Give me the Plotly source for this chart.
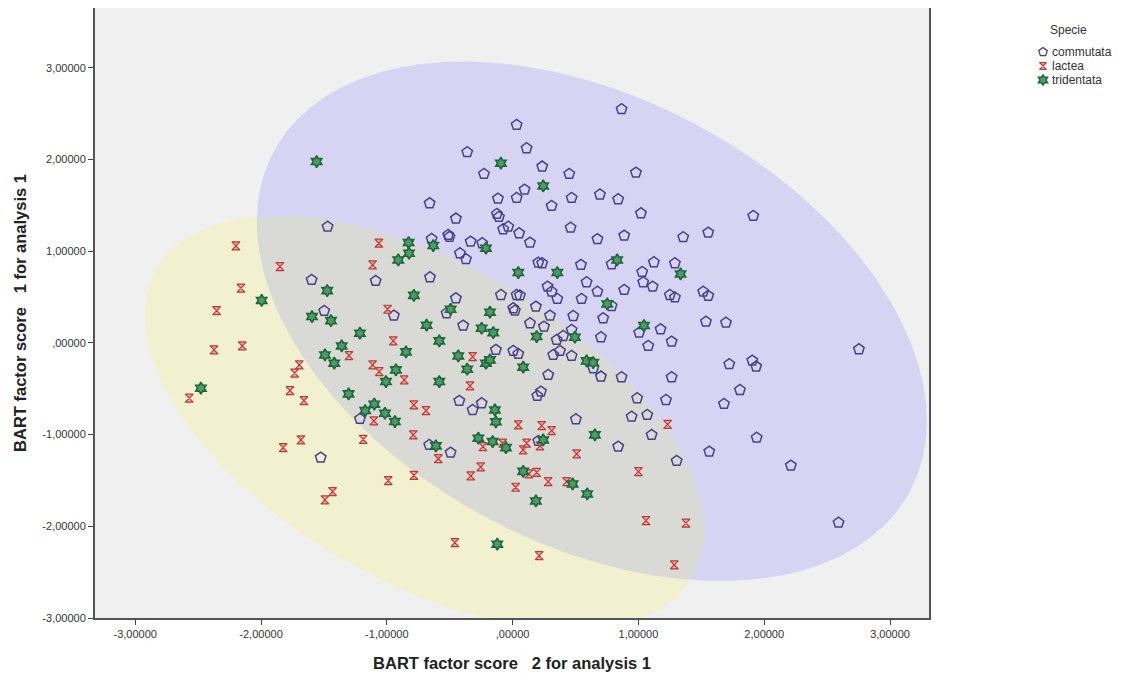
import numpy as np
import plotly.graph_objects as go

# ---------------- data ----------------
species = ["commutata", "lactea", "tridentata"]

commutata_x = [0.032, -0.361, 0.111, -0.228, 0.235, 0.450, -0.660, -0.117, 0.032, 0.095,
               0.469, 0.310, 0.694, -0.451, -0.125, -0.109, -0.075, -0.035, 0.052, 0.138,
               0.461, 0.674, -1.471, -0.644, -0.512, -0.502, -0.334, -0.242, -0.419, -0.371,
               -0.657, -1.598, -1.089, 0.204, 0.235, 0.543, 0.588, 0.278, 0.310, -0.093,
               0.032, 0.058, -0.451, 0.674, 0.866, 0.980, 0.839, 1.020, 1.913, 0.887,
               1.356, 1.555, 0.787, 1.123, 1.290, 1.030, 1.038, 1.113, 0.887, 1.250,
               1.290, 1.515, 1.555, -1.498, -0.944, -1.214, -1.526, -0.525, -0.393, 0.005,
               0.018, 0.185, 0.355, 0.548, 0.787, 0.482, 0.720, 0.297, 0.138, 0.249,
               0.469, 0.402, 0.350, 0.702, 1.006, 1.078, 1.176, 1.264, 1.537, -0.133,
               0.005, 0.045, 0.376, 0.323, 0.469, 0.641, 0.702, 0.866, 0.283, 1.264,
               0.225, 0.196, -0.424, -0.318, -0.246, 0.990, 1.219, 0.946, 1.070, 0.503,
               1.105, 0.839, 1.304, 1.563, -0.663, -0.493, 0.204, 1.696, 2.753, 1.722,
               1.905, 1.936, 1.807, 1.680, 1.940, 2.212, 2.591]
commutata_y = [2.377, 2.080, 2.123, 1.843, 1.923, 1.843, 1.523, 1.574, 1.581, 1.672,
               1.581, 1.494, 1.619, 1.356, 1.407, 1.374, 1.240, 1.268, 1.196, 1.094,
               1.257, 1.132, 1.268, 1.134, 1.178, 1.156, 1.105, 1.087, 0.978, 0.913,
               0.716, 0.687, 0.676, 0.876, 0.869, 0.851, 0.662, 0.614, 0.559, 0.523,
               0.523, 0.518, 0.487, 0.559, 2.549, 1.857, 1.567, 1.414, 1.385, 1.170,
               1.153, 1.203, 0.858, 0.880, 0.869, 0.774, 0.662, 0.614, 0.578, 0.523,
               0.496, 0.559, 0.513, 0.349, 0.298, -0.829, -1.251, 0.324, 0.189, 0.378,
               0.352, 0.396, 0.480, 0.480, 0.403, 0.294, 0.269, 0.298, 0.215, 0.178,
               0.142, 0.076, 0.033, 0.062, 0.112, -0.033, 0.149, 0.014, 0.232, -0.076,
               -0.087, -0.120, -0.087, -0.131, -0.142, -0.276, -0.367, -0.374, -0.349, -0.374,
               -0.531, -0.578, -0.632, -0.731, -0.658, -0.603, -0.622, -0.804, -0.785, -0.832,
               -1.003, -1.131, -1.287, -1.185, -1.112, -1.196, -1.069, 0.221, -0.069, -0.232,
               -0.193, -0.258, -0.513, -0.665, -1.033, -1.338, -1.960]

lactea_x = [-1.063, -1.850, -1.113, -2.200, -2.160, -2.353, -2.374, -2.149, -2.571, -1.696,
            -1.733, -1.770, -1.659, -0.994, -0.949, -1.301, -1.113, -1.060, -0.862, -0.785,
            -0.689, -1.103, -0.790, -1.188, -1.683, -1.824, -1.431, -1.492, -0.989, -0.785,
            -0.318, -0.339, -0.591, 0.045, 0.231, 0.310, -0.236, -0.079, 0.084, 0.111,
            0.217, 0.509, 1.232, -0.254, -0.333, 0.191, 0.130, 0.283, 0.429, 0.024,
            1.000, -0.459, 0.211, 1.060, 1.378, 1.285]
lactea_y = [1.087, 0.832, 0.851, 1.058, 0.597, 0.352, -0.076, -0.033, -0.603, -0.240,
            -0.330, -0.520, -0.629, 0.367, 0.022, -0.138, -0.240, -0.313, -0.403, -0.676,
            -0.738, -0.851, -1.003, -1.052, -1.058, -1.142, -1.622, -1.712, -1.502, -1.445,
            -0.149, -0.469, -1.263, -0.894, -0.902, -0.956, -1.131, -1.094, -1.167, -1.094,
            -1.123, -1.210, -0.889, -1.352, -1.450, -1.412, -1.429, -1.513, -1.513, -1.574,
            -1.403, -2.178, -2.320, -1.938, -1.966, -2.421]

tridentata_x = [-1.558, -0.093, 0.243, -0.827, -0.824, -0.631, -0.909, -0.212, 0.045, 0.355,
                -1.474, -0.785, -1.995, 0.831, 1.335, -2.478, -1.595, -1.444, -1.214, -0.684,
                -1.359, -1.492, -1.418, -0.848, -0.928, -1.007, -1.304, -1.100, -1.172, -1.015,
                -0.936, -0.493, -0.180, -0.246, -0.154, -0.583, -0.432, -0.361, -0.212, -0.180,
                0.191, 0.495, 0.084, -0.583, 0.588, 0.641, 0.752, 1.044, -0.141, -0.133,
                0.654, -0.610, -0.273, -0.159, -0.053, 0.243, 0.084, 0.477, 0.593, 0.185,
                -0.122]
tridentata_y = [1.977, 1.960, 1.712, 1.094, 0.978, 1.061, 0.905, 1.033, 0.767, 0.767,
                0.570, 0.518, 0.463, 0.905, 0.752, -0.494, 0.287, 0.243, 0.106, 0.193,
                -0.033, -0.131, -0.221, -0.098, -0.294, -0.422, -0.556, -0.668, -0.738, -0.767,
                -0.858, 0.367, 0.335, 0.160, 0.112, 0.022, -0.142, -0.287, -0.221, -0.185,
                0.069, 0.062, -0.265, -0.422, -0.196, -0.215, 0.425, 0.189, -0.731, -0.861,
                -1.003, -1.123, -1.039, -1.076, -1.142, -1.058, -1.401, -1.538, -1.647, -1.723,
                -2.195]

# group ellipses (center, spread, correlation): [commutata region, lactea region]
ellipse_cx = [0.630, -0.701]
ellipse_cy = [0.236, -0.870]
ellipse_sx = [2.663, 2.224]
ellipse_sy = [2.832, 2.255]
ellipse_rho = [-0.384, -0.524]

tick_vals = [-3, -2, -1, 0, 1, 2, 3]
tick_text = ["-3,00000", "-2,00000", "-1,00000", ",00000", "1,00000", "2,00000", "3,00000"]

x_title = "BART factor score\u00a0\u00a0 2 for analysis 1"
y_title = "BART factor score\u00a0\u00a0 1 for analysis 1"
legend_title = "Specie"

# ---------------- styles ----------------
ellipse_fill = ["#d6d4f2", "#f1f1cf"]
overlap_fill = "#d9d9d5"
FONT = "Liberation Sans, Arial, sans-serif"
marker_styles = [
    dict(symbol="pentagon-open", size=11, color="#4a3f8c", line=dict(width=1.5, color="#4a3f8c")),
    dict(symbol="hourglass", size=8, color="#eab096", line=dict(width=1.2, color="#c0393a")),
    dict(symbol="hexagram", size=9, color="#4e9a68", line=dict(width=1.6, color="#1c6637")),
]
legend_marker_styles = [
    dict(symbol="pentagon-open", size=9, color="#4a3f8c", line=dict(width=1.3, color="#4a3f8c")),
    dict(symbol="hourglass", size=7, color="#eab096", line=dict(width=1.1, color="#c0393a")),
    dict(symbol="hexagram", size=8, color="#4e9a68", line=dict(width=1.5, color="#1c6637")),
]

# page geometry (the page body adds an 8px offset)
FIG_W, FIG_H = 1107, 665
M_L, M_R, M_T, M_B = 87, 0, 0, 55
PAPER_W = FIG_W - M_L - M_R
PLOT_W = 834
X_DOMAIN_END = PLOT_W / PAPER_W
LEG_X0 = 0.83


def cov_of(i):
    sx, sy, r = ellipse_sx[i], ellipse_sy[i], ellipse_rho[i]
    return np.array([[sx * sx, r * sx * sy], [r * sx * sy, sy * sy]])


def ellipse_path(i, n=900):
    t = np.linspace(0, 2 * np.pi, n)
    L = np.linalg.cholesky(cov_of(i))
    p = L @ np.vstack([np.cos(t), np.sin(t)])
    return ellipse_cx[i] + p[0], ellipse_cy[i] + p[1]


def inside(i, x, y):
    inv = np.linalg.inv(cov_of(i))
    dx = x - ellipse_cx[i]
    dy = y - ellipse_cy[i]
    q = inv[0, 0] * dx * dx + 2 * inv[0, 1] * dx * dy + inv[1, 1] * dy * dy
    return q <= 1.0


bx, by = ellipse_path(0)
yx, yy = ellipse_path(1)
mb = inside(1, bx, by)
my = inside(0, yx, yy)
ox = np.concatenate([bx[mb], yx[my]])
oy = np.concatenate([by[mb], yy[my]])
ang = np.arctan2(oy - oy.mean(), ox - ox.mean())
order = np.argsort(ang)
ox = np.append(ox[order], ox[order][0])
oy = np.append(oy[order], oy[order][0])

fig = go.Figure()
fig.add_trace(go.Scatter(x=yx, y=yy, mode="lines", fill="toself", fillcolor=ellipse_fill[1],
                         line=dict(width=0, color=ellipse_fill[1]), hoverinfo="skip", showlegend=False))
fig.add_trace(go.Scatter(x=bx, y=by, mode="lines", fill="toself", fillcolor=ellipse_fill[0],
                         line=dict(width=0, color=ellipse_fill[0]), hoverinfo="skip", showlegend=False))
fig.add_trace(go.Scatter(x=ox, y=oy, mode="lines", fill="toself", fillcolor=overlap_fill,
                         line=dict(width=0, color=overlap_fill), hoverinfo="skip", showlegend=False))

series_x = [commutata_x, lactea_x, tridentata_x]
series_y = [commutata_y, lactea_y, tridentata_y]
for k in range(3):
    fig.add_trace(go.Scatter(x=series_x[k], y=series_y[k], mode="markers", name=species[k],
                             marker=marker_styles[k], showlegend=False))

# ---- legend drawn on a small helper axis placed in the right margin (units = screen px) ----
leg_x_range = [95 + LEG_X0 * PAPER_W, 95 + PAPER_W]
leg_y_range = [130, 8]
leg_marker_x = 1043
leg_text_x = 1050
leg_item_y = [52, 66, 80]
for k in range(3):
    fig.add_trace(go.Scatter(x=[leg_marker_x], y=[leg_item_y[k]], mode="markers",
                             marker=legend_marker_styles[k], xaxis="x2", yaxis="y2",
                             hoverinfo="skip", showlegend=False))
    fig.add_annotation(x=leg_text_x, y=leg_item_y[k], xref="x2", yref="y2", text=species[k],
                       showarrow=False, xanchor="left", yanchor="middle",
                       font=dict(size=12, color="#333", family=FONT))
fig.add_annotation(x=1068, y=30, xref="x2", yref="y2", text=legend_title, showarrow=False,
                   xanchor="center", yanchor="middle", font=dict(size=12, color="#333", family=FONT))

axis_common = dict(tickvals=tick_vals, ticktext=tick_text, ticks="outside", ticklen=5,
                   tickcolor="#444", tickwidth=1, showgrid=False, zeroline=False,
                   showline=True, linecolor="#555", linewidth=2, mirror=True,
                   tickfont=dict(size=11, color="#333", family=FONT))

fig.update_layout(
    xaxis=dict(domain=[0, X_DOMAIN_END], range=[-3.32, 3.31],
               title=dict(text="<b>" + x_title + "</b>",
                          font=dict(size=16.5, color="#222", family=FONT), standoff=18),
               **axis_common),
    yaxis=dict(domain=[0, 1], range=[-3.0, 3.652],
               title=dict(text="<b>" + y_title + "</b>",
                          font=dict(size=16.5, color="#222", family=FONT), standoff=12),
               **axis_common),
    xaxis2=dict(domain=[LEG_X0, 1.0], range=leg_x_range, visible=False, anchor="y2", fixedrange=True),
    yaxis2=dict(domain=[0.8, 1.0], range=leg_y_range, visible=False, anchor="x2", fixedrange=True),
    width=FIG_W, height=FIG_H,
    margin=dict(l=M_L, r=M_R, t=M_T, b=M_B, autoexpand=False),
    paper_bgcolor="white", plot_bgcolor="white",
    font=dict(family=FONT, color="#333", size=11),
    showlegend=False,
    shapes=[dict(type="rect", xref="x domain", yref="y domain", x0=0, x1=1, y0=0, y1=1,
                 fillcolor="#f0f0f0", line=dict(width=0), layer="below")],
)

fig.write_html("out.html")
